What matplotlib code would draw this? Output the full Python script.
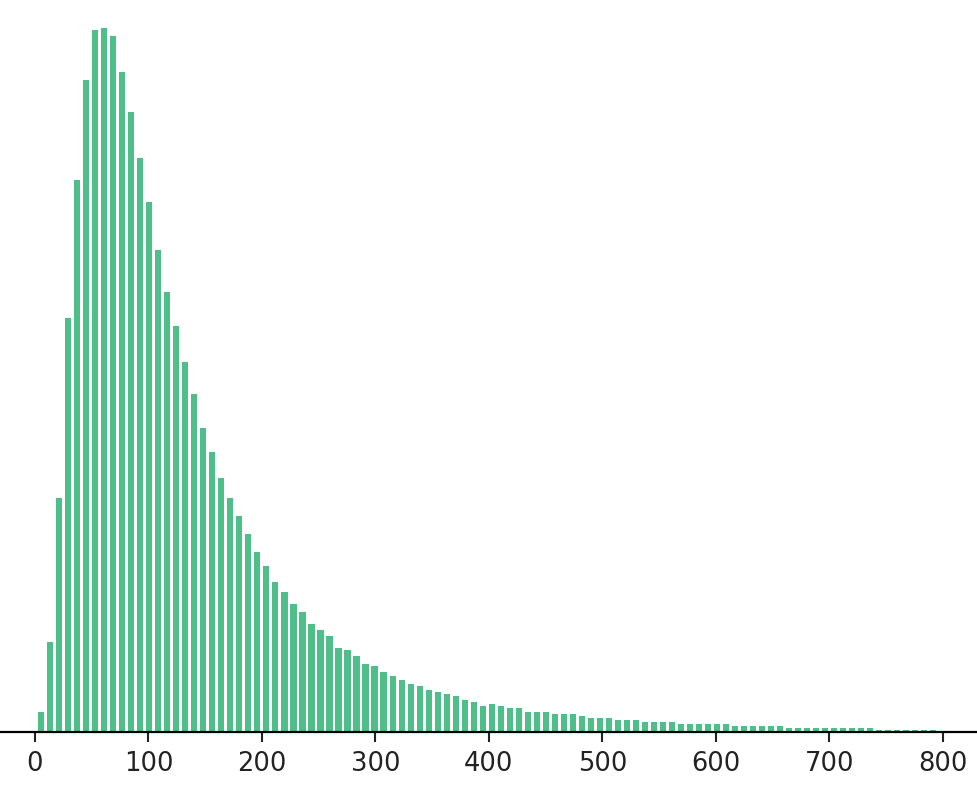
import numpy as np
import matplotlib
matplotlib.use("Agg")
import matplotlib.pyplot as plt

# bin edges (100 bins) and the count in each bin
edges = np.linspace(1.5, 795.5, 101)
counts = [20, 90, 234, 414, 552, 652, 702, 704, 696, 660,
          620, 574, 530, 482, 440, 406, 370, 338, 304, 280,
          254, 234, 216, 198, 180, 166, 150, 140, 128, 120,
          108, 102, 96, 84, 82, 76, 68, 66, 60, 56,
          52, 48, 46, 42, 40, 38, 36, 32, 30, 26,
          28, 26, 24, 24, 20, 20, 20, 18, 18, 18,
          16, 14, 14, 14, 12, 12, 12, 10, 10, 10,
          10, 8, 8, 8, 8, 8, 8, 6, 6, 6,
          6, 6, 6, 4, 4, 4, 4, 4, 4, 4,
          4, 4, 4, 2, 2, 2, 2, 2, 2, 2]
xticks = [0, 100, 200, 300, 400, 500, 600, 700, 800]

fig = plt.figure(figsize=(9.78, 7.86), dpi=100)
ax = fig.add_axes([0, 0.0687, 1, 0.9313])

centers = (edges[:-1] + edges[1:]) / 2
w = np.diff(edges)
ax.bar(centers, counts, width=w * 0.68, color='#4EBF88', linewidth=0)

ax.set_xlim(-30.8, 831)
ax.set_ylim(0, 732)
ax.set_yticks([])
for s in ['left', 'right', 'top']:
    ax.spines[s].set_visible(False)
ax.spines['bottom'].set_linewidth(1.6)
ax.set_xticks(xticks)
ax.tick_params(axis='x', labelsize=18.5, length=7, width=1.5, pad=7, colors='#222222')

fig.savefig('out.png', dpi=100)
